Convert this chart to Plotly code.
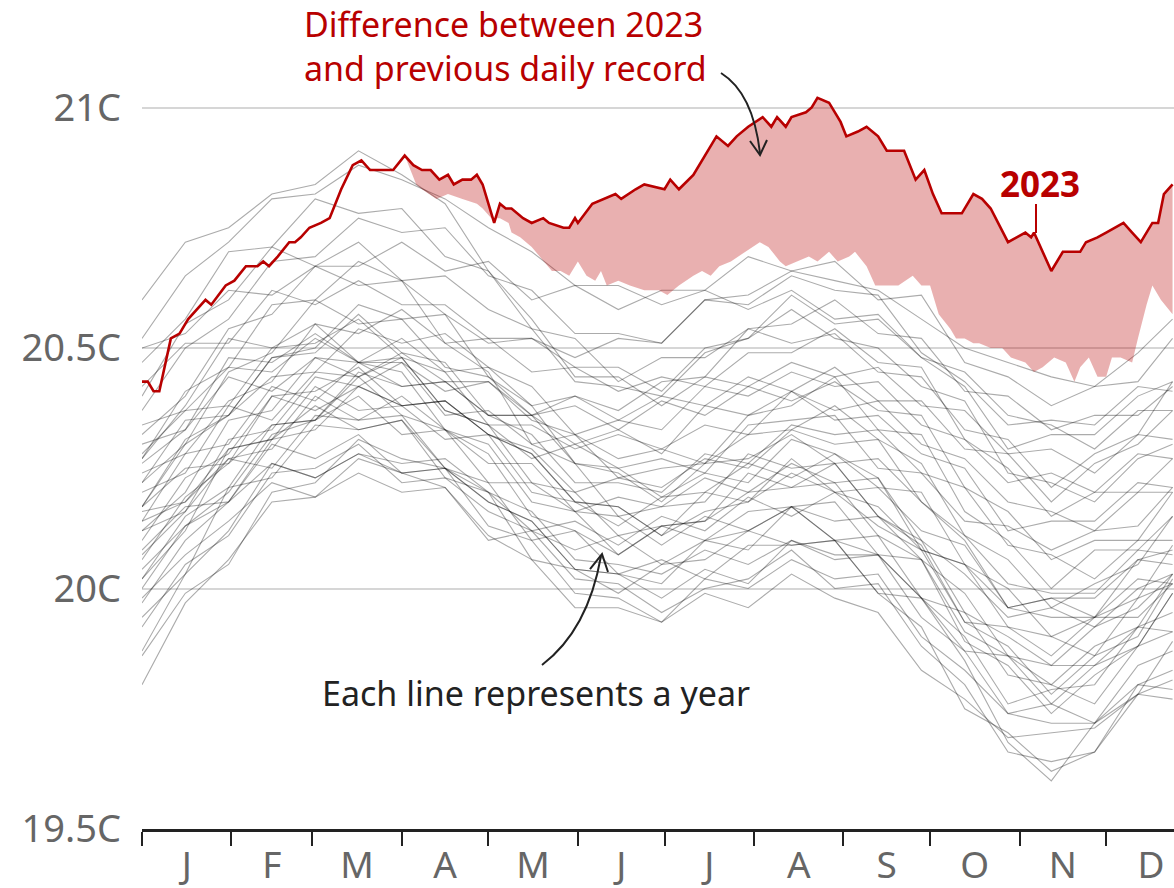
import plotly.graph_objects as go

# ---------------- axes / labels ----------------
MONTH_LABELS = ["J", "F", "M", "A", "M", "J", "J", "A", "S", "O", "N", "D"]
MONTH_STARTS = [0, 31, 59, 90, 120, 151, 181, 212, 243, 273, 304, 334]
MONTH_MIDS = [15.5, 45, 74.5, 105, 135.5, 166, 196.5, 227.5, 258, 288.5, 319, 349.5]
Y_TICKS = [19.5, 20, 20.5, 21]
Y_TICK_LABELS = ["19.5C", "20C", "20.5C", "21C"]

# ---------------- 2023 (day of year, deg C) ----------------
RED_DAYS = [0, 2, 4, 6, 10, 13, 16, 19, 22, 24, 29, 32, 36, 40, 42, 44, 47, 51, 53, 55, 58, 62, 65, 69, 73,
            76, 79, 87, 91, 94, 97, 100, 103, 106, 108, 111, 114, 116, 118, 122, 124, 126, 128, 132, 135,
            139, 141, 146, 148, 150, 151, 156, 160, 164, 166, 171, 174, 181, 183, 186, 191, 194, 199, 203,
            206, 210, 215, 218, 220, 223, 225, 230, 232, 234, 238, 242, 244, 248, 251, 255, 258, 264, 268,
            271, 274, 277, 284, 288, 291, 294, 300, 303, 306, 308, 309, 315, 319, 321, 325, 327, 331, 334,
            340, 343, 346, 350, 352, 354, 357]
RED_VALS = [20.43, 20.43, 20.41, 20.41, 20.52, 20.53, 20.56, 20.58, 20.60, 20.59, 20.63, 20.64, 20.67, 20.67,
            20.68, 20.67, 20.69, 20.72, 20.72, 20.73, 20.75, 20.76, 20.77, 20.83, 20.88,
            20.89, 20.87, 20.87, 20.90, 20.88, 20.87, 20.87, 20.85, 20.86, 20.84, 20.85, 20.85, 20.86, 20.84,
            20.76, 20.80, 20.79, 20.79, 20.77, 20.76,
            20.77, 20.76, 20.75, 20.75, 20.77, 20.76, 20.80, 20.81, 20.82, 20.81, 20.83, 20.84, 20.83, 20.85,
            20.83, 20.86, 20.89, 20.94, 20.92,
            20.94, 20.96, 20.98, 20.96, 20.98, 20.96, 20.98, 20.99, 21.00, 21.02, 21.01, 20.97, 20.94, 20.95,
            20.96, 20.94, 20.91, 20.91, 20.85,
            20.87, 20.82, 20.78, 20.78, 20.82, 20.81, 20.79, 20.72, 20.73, 20.74, 20.73, 20.74, 20.66, 20.70,
            20.70, 20.70, 20.72, 20.73, 20.74,
            20.76, 20.74, 20.72, 20.76, 20.76, 20.82, 20.84]

# ---------------- previous daily record (from April) ----------------
REC_DAYS = [91, 93, 95, 97, 102, 106, 111, 116, 118, 121, 124, 127, 128, 131, 135, 142, 145, 148, 151, 154,
            157, 159, 161, 165, 169, 174, 179, 182, 186, 191, 194, 197, 200, 204, 209, 214, 217, 221, 223,
            227, 231, 234, 238, 241, 245, 247, 251, 254, 256, 262, 267, 270, 273, 276, 280, 282, 285, 288,
            290, 294, 298, 301, 306, 309, 312, 316, 320, 323, 325, 328, 331, 334, 336, 339, 343, 345, 348,
            350, 353, 357]
REC_VALS = [20.90, 20.87, 20.84, 20.83, 20.81, 20.82, 20.81, 20.80, 20.79, 20.77, 20.77, 20.76, 20.74, 20.73,
            20.71, 20.66, 20.66, 20.65, 20.68, 20.65,
            20.64, 20.66, 20.63, 20.64, 20.63, 20.62, 20.62, 20.61, 20.63, 20.65, 20.66, 20.65, 20.67, 20.68,
            20.70, 20.72, 20.71, 20.68, 20.67,
            20.68, 20.69, 20.68, 20.70, 20.68, 20.69, 20.70, 20.67, 20.63, 20.63, 20.63, 20.65, 20.63, 20.63,
            20.57, 20.54, 20.52, 20.52, 20.51,
            20.51, 20.50, 20.50, 20.48, 20.47, 20.45, 20.46, 20.48, 20.47, 20.43, 20.46, 20.48, 20.44, 20.44,
            20.48, 20.48, 20.47, 20.52, 20.59,
            20.63, 20.60, 20.57]

# ---------------- earlier years (1982-2022) ----------------
GREY_DAYS = [0, 15, 30, 45, 60, 75, 90, 105, 120, 135, 150, 165, 180, 195, 210, 225, 240, 255, 270, 285,
             300, 315, 330, 345, 357]

Y1982 = [19.86, 19.99, 20.05, 20.20, 20.22, 20.31, 20.27, 20.25, 20.13, 20.10, 19.99, 19.98, 19.93, 19.99, 19.96, 20.03, 19.98, 19.95, 19.83, 19.77, 19.69, 19.70, 19.71, 19.78, 19.77]
Y1983 = [20.27, 20.38, 20.52, 20.50, 20.55, 20.47, 20.45, 20.33, 20.28, 20.15, 20.12, 20.03, 20.06, 20.02, 20.09, 20.09, 20.10, 19.99, 19.92, 19.75, 19.70, 19.62, 19.66, 19.78, 19.81]
Y1984 = [19.80, 19.97, 20.06, 20.18, 20.19, 20.24, 20.20, 20.21, 20.11, 20.06, 19.96, 19.96, 19.93, 20.02, 20.00, 20.06, 20.02, 20.03, 19.90, 19.83, 19.74, 19.76, 19.72, 19.80, 19.79]
Y1985 = [19.92, 20.05, 20.11, 20.24, 20.25, 20.30, 20.22, 20.23, 20.16, 20.12, 20.02, 20.01, 19.95, 20.00, 20.02, 20.08, 20.00, 20.01, 19.88, 19.80, 19.66, 19.64, 19.66, 19.80, 19.83]
Y1986 = [19.94, 20.03, 20.21, 20.23, 20.34, 20.33, 20.35, 20.23, 20.20, 20.12, 20.14, 20.09, 20.15, 20.12, 20.19, 20.15, 20.20, 20.13, 20.08, 19.93, 19.92, 19.86, 19.94, 19.94, 20.01]
Y1987 = [20.04, 20.13, 20.18, 20.31, 20.33, 20.42, 20.38, 20.39, 20.32, 20.28, 20.18, 20.17, 20.11, 20.20, 20.18, 20.24, 20.20, 20.21, 20.12, 20.09, 19.96, 19.98, 19.98, 20.06, 20.05]
Y1988 = [20.16, 20.18, 20.27, 20.25, 20.36, 20.35, 20.36, 20.25, 20.20, 20.06, 20.04, 19.99, 20.05, 20.06, 20.12, 20.09, 20.10, 19.99, 19.98, 19.87, 19.86, 19.76, 19.84, 19.88, 19.99]
Y1989 = [19.87, 20.03, 20.12, 20.26, 20.23, 20.28, 20.26, 20.27, 20.20, 20.16, 20.06, 20.05, 20.03, 20.08, 20.05, 20.10, 20.06, 20.07, 19.98, 19.85, 19.68, 19.60, 19.72, 19.78, 19.89]
Y1990 = [20.02, 20.15, 20.21, 20.34, 20.35, 20.44, 20.36, 20.33, 20.22, 20.22, 20.16, 20.19, 20.17, 20.23, 20.20, 20.26, 20.22, 20.23, 20.10, 20.03, 19.94, 19.96, 19.92, 20.00, 20.03]
Y1991 = [20.02, 20.12, 20.29, 20.31, 20.42, 20.37, 20.38, 20.31, 20.32, 20.20, 20.18, 20.13, 20.19, 20.20, 20.26, 20.23, 20.28, 20.21, 20.20, 20.05, 20.00, 19.90, 19.94, 19.98, 20.09]
Y1992 = [19.97, 20.10, 20.18, 20.30, 20.27, 20.32, 20.24, 20.25, 20.18, 20.14, 20.04, 20.03, 20.01, 20.10, 20.12, 20.17, 20.10, 20.07, 19.94, 19.87, 19.74, 19.72, 19.72, 19.84, 19.87]
Y1993 = [19.98, 20.07, 20.14, 20.22, 20.19, 20.27, 20.24, 20.21, 20.10, 20.12, 20.08, 20.11, 20.05, 20.10, 20.08, 20.17, 20.14, 20.15, 20.06, 19.99, 19.86, 19.84, 19.84, 19.92, 19.91]
Y1994 = [20.12, 20.16, 20.27, 20.29, 20.40, 20.35, 20.40, 20.33, 20.30, 20.18, 20.16, 20.07, 20.13, 20.14, 20.20, 20.21, 20.26, 20.15, 20.10, 19.95, 19.90, 19.84, 19.92, 19.96, 20.03]
Y1995 = [20.17, 20.25, 20.26, 20.34, 20.35, 20.40, 20.32, 20.33, 20.26, 20.26, 20.16, 20.15, 20.09, 20.15, 20.12, 20.17, 20.10, 20.11, 19.98, 19.90, 19.76, 19.79, 19.80, 19.92, 19.95]
Y1996 = [20.06, 20.19, 20.26, 20.40, 20.41, 20.46, 20.38, 20.39, 20.32, 20.28, 20.18, 20.17, 20.11, 20.16, 20.18, 20.27, 20.20, 20.17, 20.08, 20.05, 19.92, 19.90, 19.86, 19.98, 20.01]
Y1997 = [20.07, 20.16, 20.31, 20.33, 20.44, 20.42, 20.47, 20.41, 20.43, 20.36, 20.40, 20.37, 20.43, 20.44, 20.54, 20.55, 20.60, 20.53, 20.52, 20.41, 20.40, 20.33, 20.36, 20.36, 20.42]
Y1998 = [20.50, 20.53, 20.62, 20.61, 20.67, 20.63, 20.64, 20.51, 20.45, 20.30, 20.26, 20.15, 20.17, 20.18, 20.28, 20.25, 20.26, 20.15, 20.09, 19.93, 19.88, 19.78, 19.86, 19.90, 20.02]
Y1999 = [20.08, 20.17, 20.18, 20.26, 20.23, 20.28, 20.24, 20.25, 20.18, 20.14, 20.04, 20.03, 19.98, 20.04, 20.01, 20.10, 20.07, 20.07, 19.98, 19.95, 19.82, 19.80, 19.76, 19.88, 19.91]
Y2000 = [20.14, 20.18, 20.29, 20.31, 20.38, 20.33, 20.35, 20.25, 20.22, 20.10, 20.12, 20.07, 20.13, 20.10, 20.16, 20.17, 20.18, 20.07, 20.06, 19.91, 19.86, 19.80, 19.88, 19.92, 20.03]
Y2001 = [20.10, 20.23, 20.28, 20.40, 20.37, 20.42, 20.38, 20.39, 20.32, 20.29, 20.20, 20.23, 20.21, 20.27, 20.25, 20.33, 20.30, 20.31, 20.18, 20.11, 20.01, 19.99, 19.99, 20.08, 20.07]
Y2002 = [20.20, 20.24, 20.38, 20.35, 20.45, 20.44, 20.48, 20.37, 20.34, 20.27, 20.30, 20.25, 20.27, 20.24, 20.34, 20.35, 20.36, 20.25, 20.24, 20.14, 20.13, 20.08, 20.12, 20.13, 20.21]
Y2003 = [20.26, 20.33, 20.48, 20.47, 20.53, 20.47, 20.47, 20.36, 20.37, 20.30, 20.32, 20.27, 20.29, 20.26, 20.32, 20.33, 20.38, 20.31, 20.26, 20.11, 20.06, 19.96, 20.01, 20.05, 20.15]
Y2004 = [20.22, 20.35, 20.36, 20.44, 20.45, 20.54, 20.51, 20.53, 20.46, 20.42, 20.32, 20.35, 20.33, 20.42, 20.40, 20.45, 20.42, 20.43, 20.34, 20.31, 20.22, 20.24, 20.20, 20.28, 20.27]
Y2005 = [20.30, 20.33, 20.44, 20.41, 20.48, 20.44, 20.49, 20.43, 20.43, 20.35, 20.32, 20.23, 20.25, 20.26, 20.36, 20.38, 20.44, 20.33, 20.32, 20.16, 20.10, 20.00, 20.08, 20.08, 20.15]
Y2006 = [20.14, 20.28, 20.30, 20.42, 20.39, 20.47, 20.42, 20.43, 20.36, 20.36, 20.30, 20.33, 20.28, 20.38, 20.36, 20.41, 20.35, 20.36, 20.28, 20.25, 20.12, 20.14, 20.14, 20.22, 20.21]
Y2007 = [20.34, 20.37, 20.46, 20.45, 20.52, 20.47, 20.48, 20.37, 20.34, 20.22, 20.20, 20.11, 20.13, 20.14, 20.24, 20.21, 20.22, 20.11, 20.06, 19.89, 19.84, 19.74, 19.82, 19.88, 19.99]
Y2008 = [20.00, 20.13, 20.20, 20.32, 20.35, 20.45, 20.42, 20.43, 20.36, 20.36, 20.26, 20.25, 20.19, 20.24, 20.22, 20.31, 20.28, 20.23, 20.08, 20.05, 19.96, 19.98, 19.94, 20.02, 20.01]
Y2009 = [20.12, 20.20, 20.35, 20.37, 20.48, 20.47, 20.52, 20.45, 20.46, 20.38, 20.40, 20.35, 20.40, 20.38, 20.44, 20.41, 20.46, 20.39, 20.39, 20.29, 20.28, 20.18, 20.26, 20.30, 20.37]
Y2010 = [20.40, 20.55, 20.60, 20.71, 20.67, 20.72, 20.64, 20.57, 20.44, 20.38, 20.26, 20.24, 20.18, 20.26, 20.27, 20.32, 20.26, 20.27, 20.18, 20.10, 19.96, 19.94, 19.94, 20.06, 20.08]
Y2011 = [20.17, 20.31, 20.36, 20.48, 20.49, 20.57, 20.49, 20.47, 20.36, 20.32, 20.22, 20.22, 20.20, 20.28, 20.26, 20.34, 20.32, 20.33, 20.24, 20.21, 20.09, 20.07, 20.02, 20.10, 20.10]
Y2012 = [20.22, 20.30, 20.45, 20.49, 20.60, 20.55, 20.56, 20.46, 20.44, 20.36, 20.38, 20.33, 20.39, 20.36, 20.42, 20.39, 20.43, 20.37, 20.36, 20.21, 20.16, 20.06, 20.10, 20.10, 20.20]
Y2013 = [20.28, 20.37, 20.38, 20.50, 20.51, 20.56, 20.48, 20.45, 20.34, 20.34, 20.29, 20.32, 20.29, 20.34, 20.32, 20.41, 20.37, 20.39, 20.30, 20.27, 20.18, 20.16, 20.12, 20.20, 20.20]
Y2014 = [20.24, 20.28, 20.39, 20.43, 20.55, 20.53, 20.58, 20.51, 20.52, 20.45, 20.46, 20.41, 20.44, 20.42, 20.49, 20.49, 20.54, 20.47, 20.46, 20.31, 20.25, 20.15, 20.20, 20.20, 20.27]
Y2015 = [20.17, 20.30, 20.36, 20.48, 20.50, 20.59, 20.56, 20.57, 20.51, 20.52, 20.48, 20.52, 20.51, 20.60, 20.61, 20.66, 20.64, 20.62, 20.56, 20.50, 20.47, 20.44, 20.42, 20.49, 20.56]
Y2016 = [20.60, 20.72, 20.75, 20.82, 20.84, 20.91, 20.86, 20.80, 20.66, 20.56, 20.44, 20.44, 20.38, 20.44, 20.42, 20.47, 20.44, 20.46, 20.38, 20.37, 20.28, 20.29, 20.24, 20.32, 20.31]
Y2017 = [20.47, 20.56, 20.70, 20.71, 20.81, 20.78, 20.79, 20.69, 20.66, 20.54, 20.52, 20.43, 20.48, 20.48, 20.54, 20.51, 20.53, 20.45, 20.44, 20.33, 20.31, 20.21, 20.28, 20.32, 20.43]
Y2018 = [20.42, 20.51, 20.51, 20.62, 20.59, 20.64, 20.59, 20.59, 20.52, 20.52, 20.46, 20.46, 20.41, 20.50, 20.52, 20.58, 20.52, 20.50, 20.42, 20.39, 20.24, 20.22, 20.18, 20.27, 20.30]
Y2019 = [20.37, 20.50, 20.56, 20.68, 20.69, 20.77, 20.74, 20.75, 20.65, 20.62, 20.53, 20.53, 20.51, 20.60, 20.59, 20.65, 20.62, 20.61, 20.49, 20.43, 20.34, 20.35, 20.34, 20.42, 20.41]
Y2020 = [20.52, 20.65, 20.72, 20.81, 20.82, 20.88, 20.85, 20.81, 20.75, 20.70, 20.63, 20.63, 20.59, 20.62, 20.58, 20.62, 20.56, 20.57, 20.48, 20.45, 20.36, 20.34, 20.29, 20.37, 20.37]
Y2021 = [20.27, 20.41, 20.46, 20.59, 20.60, 20.68, 20.64, 20.65, 20.58, 20.54, 20.43, 20.42, 20.40, 20.49, 20.52, 20.61, 20.55, 20.56, 20.48, 20.42, 20.29, 20.32, 20.32, 20.40, 20.43]
Y2022 = [20.32, 20.40, 20.54, 20.57, 20.67, 20.67, 20.72, 20.66, 20.68, 20.60, 20.63, 20.58, 20.62, 20.62, 20.69, 20.66, 20.68, 20.60, 20.61, 20.47, 20.44, 20.38, 20.42, 20.43, 20.52]

GREY_YEARS = [Y1982, Y1983, Y1984, Y1985, Y1986, Y1987, Y1988, Y1989, Y1990, Y1991, Y1992, Y1993, Y1994,
              Y1995, Y1996, Y1997, Y1998, Y1999, Y2000, Y2001, Y2002, Y2003, Y2004, Y2005, Y2006, Y2007,
              Y2008, Y2009, Y2010, Y2011, Y2012, Y2013, Y2014, Y2015, Y2016, Y2017, Y2018, Y2019, Y2020,
              Y2021, Y2022]

RED = "#b80000"
FONT = "Noto Sans"

# plot-area pixel geometry (used only for placing annotations)
PL, PR, PT, PB = 142, 1174, 0, 829


def px(x):
    return (x - PL) / (PR - PL)


def py(y):
    return (PB - y) / (PB - PT)


def P(x, y):
    return f"{px(x):.5f},{py(y):.5f}"


fig = go.Figure()

for vals in GREY_YEARS:
    fig.add_trace(go.Scatter(x=GREY_DAYS, y=vals, mode="lines",
                             line=dict(color="rgba(0,0,0,0.33)", width=1.1),
                             hoverinfo="skip", showlegend=False))

# shaded difference between 2023 and the previous record
start = REC_DAYS[0]
fill_x = [d for d in RED_DAYS if d >= start] + REC_DAYS[::-1]
fill_y = [v for d, v in zip(RED_DAYS, RED_VALS) if d >= start] + REC_VALS[::-1]
fig.add_trace(go.Scatter(x=fill_x, y=fill_y, mode="lines", fill="toself",
                         fillcolor="rgba(184,0,0,0.31)", line=dict(width=0),
                         hoverinfo="skip", showlegend=False))

fig.add_trace(go.Scatter(x=RED_DAYS, y=RED_VALS, mode="lines",
                         line=dict(color=RED, width=2.6), hoverinfo="skip", showlegend=False))

shapes = [
    # curved arrow to the shaded area
    dict(type="path", xref="paper", yref="paper",
         path=f"M {P(721,73)} Q {P(753,93)} {P(760,153)}",
         line=dict(color="#222", width=2)),
    dict(type="path", xref="paper", yref="paper",
         path=f"M {P(750,141)} L {P(760,155)} L {P(767,140)}",
         line=dict(color="#222", width=2)),
    # curved arrow to the grey lines
    dict(type="path", xref="paper", yref="paper",
         path=f"M {P(542,665)} Q {P(588,630)} {P(601,556)}",
         line=dict(color="#222", width=2)),
    dict(type="path", xref="paper", yref="paper",
         path=f"M {P(590,569)} L {P(602,554)} L {P(608,572)}",
         line=dict(color="#222", width=2)),
    # 2023 leader tick
    dict(type="line", xref="paper", yref="paper",
         x0=px(1036), x1=px(1036), y0=py(204), y1=py(233),
         line=dict(color=RED, width=2)),
]

annotations = [
    dict(xref="paper", yref="paper", x=px(302), y=py(46), xanchor="left", yanchor="middle",
         align="left", showarrow=False,
         text="Difference between 2023<br>and previous daily record",
         font=dict(family=FONT, size=34, color=RED)),
    dict(xref="paper", yref="paper", x=px(1040), y=py(183), xanchor="center", yanchor="middle",
         showarrow=False, text="<b>2023</b>",
         font=dict(family=FONT, size=35, color=RED)),
    dict(xref="paper", yref="paper", x=px(536), y=py(693), xanchor="center", yanchor="middle",
         showarrow=False, text="Each line represents a year",
         font=dict(family=FONT, size=34, color="#222")),
]

fig.update_layout(
    width=1174, height=888,
    autosize=False,
    margin=dict(l=PL, r=0, t=0, b=888 - PB, autoexpand=False),
    paper_bgcolor="white", plot_bgcolor="white",
    showlegend=False,
    font=dict(family=FONT),
    shapes=shapes,
    annotations=annotations,
    xaxis=dict(
        range=[0, 357.5], automargin=False,
        tickmode="array", tickvals=MONTH_MIDS, ticktext=MONTH_LABELS,
        ticks="", showgrid=False, zeroline=False,
        showline=True, linecolor="#222", linewidth=3,
        tickfont=dict(family=FONT, size=37, color="#666"),
        ticklabelstandoff=2,
        minor=dict(tickmode="array", tickvals=MONTH_STARTS, ticks="outside",
                   ticklen=14, tickwidth=2, tickcolor="#222", showgrid=False),
    ),
    yaxis=dict(
        range=[19.5, 19.5 + PB / 481.0], automargin=False,
        tickmode="array", tickvals=Y_TICKS, ticktext=Y_TICK_LABELS,
        ticks="", showgrid=True, gridcolor="#d6d6d6", gridwidth=2,
        zeroline=False, showline=False,
        tickfont=dict(family=FONT, size=38, color="#666"),
        ticklabelstandoff=20,
    ),
)

fig.write_html(
    "out.html",
    config={"displayModeBar": False},
    post_script="document.body.style.margin='0';document.body.style.padding='0';"
                "document.documentElement.style.overflow='hidden';",
)
